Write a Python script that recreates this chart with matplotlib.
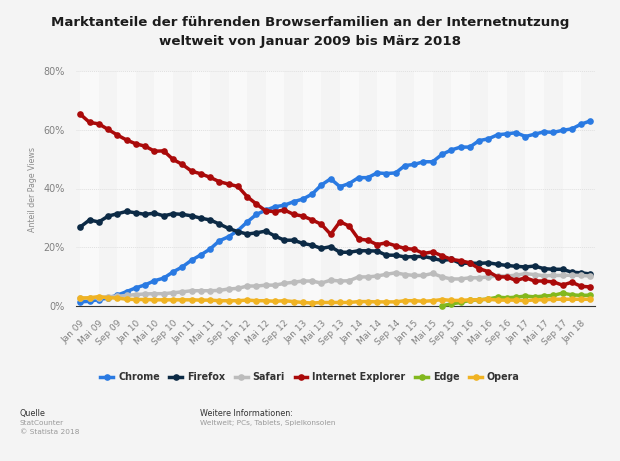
#
#   Browser market share, Jan 2009 - Mar 2018 (one point every two months)
#

import numpy as np
import matplotlib
matplotlib.use("Agg")
import matplotlib.pyplot as plt

#
#   Data
#

YEARS_MONTHS = [(y, m) for y in range(2009, 2019) for m in (1, 3, 5, 7, 9, 11)][:56]
MONTH_NAMES = {1: "Jan", 5: "Mai", 9: "Sep"}

chrome = [1.4, 1.6, 2.2, 2.7, 3.7, 4.9, 6.2, 7.2, 8.6, 9.5,
          11.6, 13.3, 15.6, 17.4, 19.4, 22.2, 23.6, 25.7, 28.6, 31.2,
          32.6, 33.8, 34.3, 35.5, 36.4, 38.1, 41.2, 43.3, 40.6, 41.7,
          43.7, 43.7, 45.3, 45.1, 45.3, 47.8, 48.2, 49.1, 49.1, 51.6,
          53.1, 54.1, 54.1, 56.3, 56.9, 58.3, 58.6, 59.0, 57.7, 58.5,
          59.3, 59.1, 59.8, 60.3, 61.9, 63.0]
firefox = [26.9, 29.3, 28.6, 30.6, 31.4, 32.2, 31.7, 31.2, 31.6, 30.7,
           31.4, 31.2, 30.7, 29.9, 29.3, 27.9, 26.4, 25.3, 24.5, 24.9,
           25.5, 23.8, 22.4, 22.4, 21.3, 20.7, 19.6, 20.2, 18.3, 18.3,
           18.8, 18.8, 18.7, 17.3, 17.3, 16.7, 16.8, 16.9, 16.2, 15.5,
           15.9, 14.5, 14.6, 14.5, 14.7, 14.2, 13.8, 13.5, 13.3, 13.6,
           12.7, 12.5, 12.5, 11.5, 11.3, 10.9]
safari = [2.6, 2.7, 2.8, 3.2, 3.3, 3.6, 3.9, 4.1, 4.2, 4.2,
          4.5, 4.8, 5.2, 5.2, 5.2, 5.3, 5.8, 6.0, 6.8, 6.8,
          7.1, 7.1, 7.7, 8.1, 8.5, 8.5, 7.8, 8.8, 8.5, 8.6,
          9.9, 9.9, 10.2, 10.8, 11.3, 10.7, 10.4, 10.4, 11.1, 9.9,
          9.2, 9.2, 9.6, 9.6, 9.9, 10.2, 10.2, 10.5, 11.0, 10.7,
          10.3, 10.4, 10.4, 10.5, 10.4, 10.2]
ie = [65.3, 62.5, 62.0, 60.1, 58.2, 56.5, 55.2, 54.4, 52.7, 52.8,
      49.9, 48.2, 45.9, 45.0, 43.8, 42.3, 41.5, 40.7, 37.2, 34.7,
      32.4, 32.1, 32.7, 31.2, 30.6, 29.3, 27.8, 24.4, 28.7, 27.2,
      22.8, 22.4, 20.9, 21.5, 20.5, 19.6, 19.3, 17.9, 18.4, 17.1,
      15.9, 15.4, 14.7, 12.7, 11.7, 9.9, 9.9, 8.7, 9.6, 8.5,
      8.5, 8.2, 7.1, 8.1, 6.7, 6.5]
edge = [np.nan] * 39 + [0.1, 0.7, 1.2, 1.9, 2.1, 2.4, 3.0, 2.8, 3.0, 3.4,
                        3.1, 3.4, 3.6, 4.4, 3.8, 3.6, 3.7]
opera = [2.7, 2.8, 3.2, 2.8, 2.7, 2.3, 2.2, 2.2, 2.1, 2.1,
         2.1, 2.1, 2.1, 2.0, 2.0, 1.8, 1.8, 1.8, 2.0, 1.8,
         1.8, 1.6, 1.8, 1.5, 1.2, 1.0, 1.2, 1.2, 1.2, 1.2,
         1.5, 1.5, 1.4, 1.4, 1.4, 1.8, 1.8, 1.6, 1.8, 2.2,
         1.9, 1.9, 2.1, 2.1, 2.3, 2.0, 2.0, 2.0, 1.8, 2.1,
         2.1, 2.3, 2.3, 2.3, 2.3, 2.3]

series = [
    ("Chrome", chrome, "#2a7ae2"),
    ("Firefox", firefox, "#0c2a45"),
    ("Safari", safari, "#bcbcbc"),
    ("Internet Explorer", ie, "#aa0a0a"),
    ("Edge", edge, "#82b81e"),
    ("Opera", opera, "#f0b323"),
]

W, H = 620, 461
BG = "#f4f4f4"
GREY = "#808080"


def make_plot():
    plt.rcParams["font.family"] = ["DejaVu Sans"]
    fig = plt.figure(figsize=(W / 100, H / 100), dpi=100, facecolor=BG)
    ax = fig.add_axes([76 / W, 1 - 306 / H, 519 / W, 235 / H], facecolor=BG)

    x = np.arange(56)
    ax.set_xlim(-0.46, 55.5)
    ax.set_ylim(0, 80)

    # Alternating bands, two points wide
    for i in range(0, 56, 4):
        ax.axvspan(i, i + 2, color="#f9f9f9", lw=0, zorder=0)

    ax.yaxis.grid(True, color="#e0e0e0", lw=0.7, ls=(0, (1, 1)), zorder=1)
    ax.set_axisbelow(True)

    for name, vals, col in series:
        ax.plot(x, vals, color=col, lw=2.5, marker="o", ms=4.8, mew=0,
                label=name, clip_on=False, zorder=3)

    for side in ("top", "left", "right"):
        ax.spines[side].set_visible(False)
    ax.spines["bottom"].set_color("#333333")
    ax.spines["bottom"].set_linewidth(0.8)

    ax.set_yticks([0, 20, 40, 60, 80])
    ax.set_yticklabels(["0%", "20%", "40%", "60%", "80%"], color=GREY, fontsize=6.9)
    ticks = x[::2]
    labels = [f"{MONTH_NAMES[m]} {str(y)[2:]}" for (y, m) in YEARS_MONTHS[::2]]
    ax.set_xticks(ticks)
    ax.set_xticklabels(labels, rotation=45, ha="right", rotation_mode="anchor",
                       color=GREY, fontsize=6.5)
    ax.tick_params(axis="x", length=0, pad=9)
    ax.tick_params(axis="y", length=0, pad=8)

    fig.text(32.5 / W, 1 - 189 / H, "Anteil der Page Views", rotation=90, color="#8c8c8c",
             fontsize=5.7, ha="center", va="center")

    fig.text(310 / W, 1 - 22.5 / H, "Marktanteile der führenden Browserfamilien an der Internetnutzung",
             fontsize=9.6, fontweight="bold", color="#1c1c1c", ha="center", va="center")
    fig.text(310 / W, 1 - 41.5 / H, "weltweit von Januar 2009 bis März 2018",
             fontsize=9.6, fontweight="bold", color="#1c1c1c", ha="center", va="center")

    fig.legend(loc="center", bbox_to_anchor=(310 / W, 1 - 377 / H), ncol=6, frameon=False,
               prop={"size": 6.9, "weight": "bold"}, labelcolor="#333333",
               handlelength=1.35, handletextpad=0.5, columnspacing=1.0, borderpad=0)

    fig.text(20 / W, 1 - 413 / H, "Quelle", fontsize=5.8, color="#333333", va="center")
    fig.text(20 / W, 1 - 423 / H, "StatCounter", fontsize=5.3, color="#9a9a9a", va="center")
    fig.text(20 / W, 1 - 432 / H, "© Statista 2018", fontsize=5.3, color="#9a9a9a", va="center")
    fig.text(200.5 / W, 1 - 413 / H, "Weitere Informationen:", fontsize=5.8, color="#333333", va="center")
    fig.text(200.5 / W, 1 - 423 / H, "Weltweit; PCs, Tablets, Spielkonsolen", fontsize=5.3,
             color="#9a9a9a", va="center")

    fig.savefig("out.png", dpi=100, facecolor=BG)


if __name__ == "__main__":
    make_plot()
